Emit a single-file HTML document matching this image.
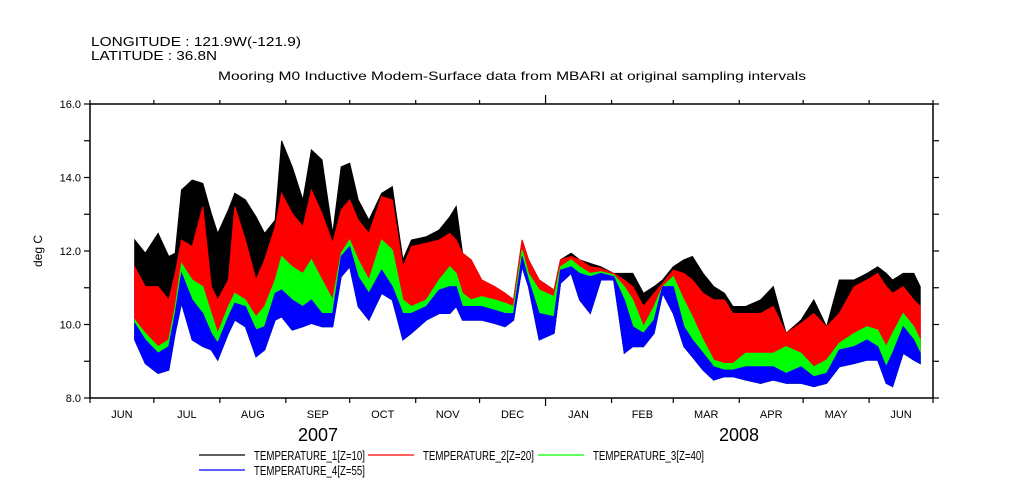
<!DOCTYPE html>
<html><head><meta charset="utf-8"><style>
html,body{margin:0;padding:0;background:#fff;}
svg{display:block;font-family:"Liberation Sans",sans-serif;}
</style></head><body>
<svg id="chart" width="1009" height="504" viewBox="0 0 1009 504">
  <text x="91" y="46" font-size="13" textLength="210" lengthAdjust="spacingAndGlyphs">LONGITUDE : 121.9W(-121.9)</text>
  <text x="91" y="60" font-size="13" textLength="126" lengthAdjust="spacingAndGlyphs">LATITUDE : 36.8N</text>
  <text x="218" y="80" font-size="12" textLength="588" lengthAdjust="spacingAndGlyphs">Mooring M0 Inductive Modem-Surface data from MBARI at original sampling intervals</text>
  <text transform="translate(42,251) rotate(-90)" font-size="12" text-anchor="middle">deg C</text>
  <g id="plot"></g>
  <g id="axes"></g>
  <text x="318" y="441" font-size="18" text-anchor="middle">2007</text>
  <text x="739" y="441" font-size="18" text-anchor="middle">2008</text>
  <g id="legend"></g>
</svg>
<script>
// day index from 2007-06-01
const days = [21,26,32,37,40,43,48,53,57,60,65,68,73,78,82,87,90,95,100,104,109,114,118,122,126,131,137,142,147,151,158,164,169,172,175,179,184,190,195,199,203,206,211,218,221,226,230,235,240,246,251,255,260,265,269,274,279,283,288,293,298,302,308,315,321,327,334,340,346,352,359,365,370,374,377,382,387,390];
const t1Max = [12.3,11.94,12.48,11.85,11.94,13.66,13.93,13.84,13.02,12.48,13.12,13.57,13.39,12.93,12.48,12.84,15.0,14.29,13.39,14.75,14.48,12.48,14.29,14.39,13.39,12.84,13.57,13.75,11.76,12.3,12.39,12.57,12.93,13.21,11.94,11.76,11.21,11.03,10.85,10.67,12.3,11.76,11.21,10.94,11.76,11.94,11.76,11.66,11.57,11.39,11.39,11.39,10.85,11.03,11.21,11.57,11.76,11.85,11.39,11.03,10.85,10.49,10.49,10.67,11.03,9.76,10.12,10.67,9.94,11.21,11.21,11.39,11.57,11.39,11.21,11.39,11.39,11.03];
const t2Max = [11.57,11.03,11.03,10.67,11.39,12.3,12.12,13.21,11.03,10.67,11.21,13.21,12.3,11.21,11.76,12.66,13.57,13.02,12.66,13.66,13.02,12.21,13.12,13.39,12.84,12.48,13.48,13.39,11.57,12.12,12.21,12.3,12.48,12.3,11.94,11.76,11.21,11.03,10.85,10.67,12.3,11.76,11.21,10.94,11.76,11.85,11.76,11.57,11.53,11.39,11.21,11.03,10.49,10.85,11.12,11.48,11.39,11.21,10.85,10.67,10.67,10.3,10.3,10.3,10.49,9.76,10.03,10.3,9.94,10.3,11.03,11.21,11.39,11.03,10.85,11.03,10.67,10.49];
const t3Max = [10.12,9.76,9.4,9.58,10.49,11.66,11.21,11.03,10.3,9.76,10.49,10.85,10.67,10.21,10.49,11.21,11.85,11.57,11.39,11.76,11.21,10.67,11.94,12.3,11.76,11.21,12.3,12.03,10.67,10.49,10.67,11.21,11.57,11.39,10.85,10.67,10.76,10.67,10.58,10.49,12.03,11.39,10.94,10.76,11.57,11.76,11.57,11.39,11.44,11.35,11.03,10.67,9.94,10.49,11.03,11.3,10.67,10.21,9.58,9.03,8.94,8.94,9.22,9.22,9.22,9.4,9.22,8.85,9.03,9.49,9.76,9.94,9.85,9.4,9.76,10.3,9.94,9.58];
const t4Max = [10.03,9.58,9.22,9.4,10.3,11.39,10.67,10.3,9.76,9.49,10.21,10.58,10.49,9.85,9.94,10.85,10.94,10.67,10.49,10.67,10.3,10.3,11.85,12.12,11.3,10.85,11.48,11.03,10.3,10.3,10.49,10.94,11.03,11.03,10.49,10.49,10.49,10.39,10.3,10.3,11.85,11.21,10.3,10.21,11.48,11.57,11.39,11.3,11.39,11.3,10.67,9.94,9.76,10.12,11.03,11.03,9.94,9.58,9.22,8.85,8.76,8.76,8.85,8.85,8.85,8.67,8.85,8.58,8.67,9.31,9.4,9.58,9.4,8.85,9.22,9.94,9.58,9.22];
const t4Min = [9.58,8.94,8.67,8.76,9.76,10.58,9.58,9.4,9.31,9.03,9.76,10.12,9.94,9.12,9.31,10.12,10.21,9.85,9.94,10.03,9.94,9.94,11.3,11.57,10.49,10.12,10.85,10.67,9.58,9.76,10.12,10.3,10.3,10.49,10.12,10.12,10.12,10.03,9.94,10.12,11.57,11.03,9.58,9.76,11.12,11.39,10.67,10.3,11.21,11.21,9.22,9.4,9.4,9.76,10.85,10.3,9.4,9.12,8.76,8.49,8.58,8.58,8.49,8.4,8.49,8.4,8.4,8.31,8.4,8.85,8.94,9.03,9.03,8.4,8.31,9.22,9.03,8.94];
const yTicks = [8,9,10,11,12,13,14,15,16];
const yLabels = ['8.0','10.0','12.0','14.0','16.0'];
const monthNames = ['JUN','JUL','AUG','SEP','OCT','NOV','DEC','JAN','FEB','MAR','APR','MAY','JUN'];
const monthLengths = [30,31,31,30,31,30,31,31,29,31,30,31,30];
const seriesNames = ['TEMPERATURE_1[Z=10]','TEMPERATURE_2[Z=20]','TEMPERATURE_3[Z=40]','TEMPERATURE_4[Z=55]'];
const seriesColors = ['#000000','#ff0000','#00ff00','#0000ff'];

const NS='http://www.w3.org/2000/svg';
const X0=90,X1=933,Y0=398,Y1=104,TOTAL=396,VMIN=8,VMAX=16;
function xs(d){return X0+(X1-X0)*d/TOTAL;}
function ys(v){return Y0-(Y0-Y1)*(v-VMIN)/(VMAX-VMIN);}
function mk(tag,attrs,parent){const e=document.createElementNS(NS,tag);for(const k in attrs)e.setAttribute(k,attrs[k]);parent.appendChild(e);return e;}
const plot=document.getElementById('plot'),axes=document.getElementById('axes'),legend=document.getElementById('legend');

const maxes=[t1Max,t2Max,t3Max,t4Max];
maxes.forEach((arr,si)=>{
  let pts=[];
  for(let i=0;i<days.length;i++)pts.push(xs(days[i]).toFixed(1)+','+ys(arr[i]).toFixed(1));
  for(let i=days.length-1;i>=0;i--)pts.push(xs(days[i]).toFixed(1)+','+ys(t4Min[i]).toFixed(1));
  const p=mk('polygon',{points:pts.join(' '),fill:seriesColors[si],stroke:seriesColors[si],'stroke-width':1},plot);
  
  
});

// frame
const fr=mk('rect',{x:X0,y:Y1,width:X1-X0,height:Y0-Y1,fill:'none',stroke:'#000','stroke-width':1.5},axes);


yTicks.forEach(v=>{
  const y=ys(v);
  const t=mk('line',{x1:X0-6,x2:X0,y1:y,y2:y,stroke:'#000','stroke-width':1.2},axes);
  
  
  const r=mk('line',{x1:X1,x2:X1+6,y1:y,y2:y,stroke:'#000','stroke-width':1.2},axes);
  
  
});
yLabels.forEach(s=>{
  const tx=mk('text',{x:X0-9,y:ys(parseFloat(s))+4,'font-size':11,'text-anchor':'end'},axes);
  tx.textContent=s;
  
  
});
let d=0;
for(let m=0;m<=monthNames.length;m++){
  const x=xs(d);
  const big=(m===7);
  const tb=mk('line',{x1:x,x2:x,y1:Y0,y2:Y0+(big?8:5),stroke:'#000','stroke-width':1.2},axes);
  
  
  const tt=mk('line',{x1:x,x2:x,y1:Y1,y2:Y1-(big?9:4),stroke:'#000','stroke-width':1.2},axes);
  
  
  if(m<monthNames.length){
    const lx=xs(d+monthLengths[m]/2);
    const lb=mk('text',{x:lx,y:418,'font-size':11,'text-anchor':'middle'},axes);
    lb.textContent=monthNames[m];
    
    
    d+=monthLengths[m];
  }
}
// legend
const legPos=[[199,455],[368,455],[538,455],[199,470]];
seriesNames.forEach((n,i)=>{
  const [lx,ly]=legPos[i];
  const g=mk('g',{},legend);
  
  
  mk('line',{x1:lx,x2:lx+46,y1:ly,y2:ly,stroke:seriesColors[i],'stroke-width':1.2},g);
  const t=mk('text',{x:lx+55,y:ly+5,'font-size':13,textLength:111,lengthAdjust:'spacingAndGlyphs'},g);
  t.textContent=n;
});
</script>
</body></html>
